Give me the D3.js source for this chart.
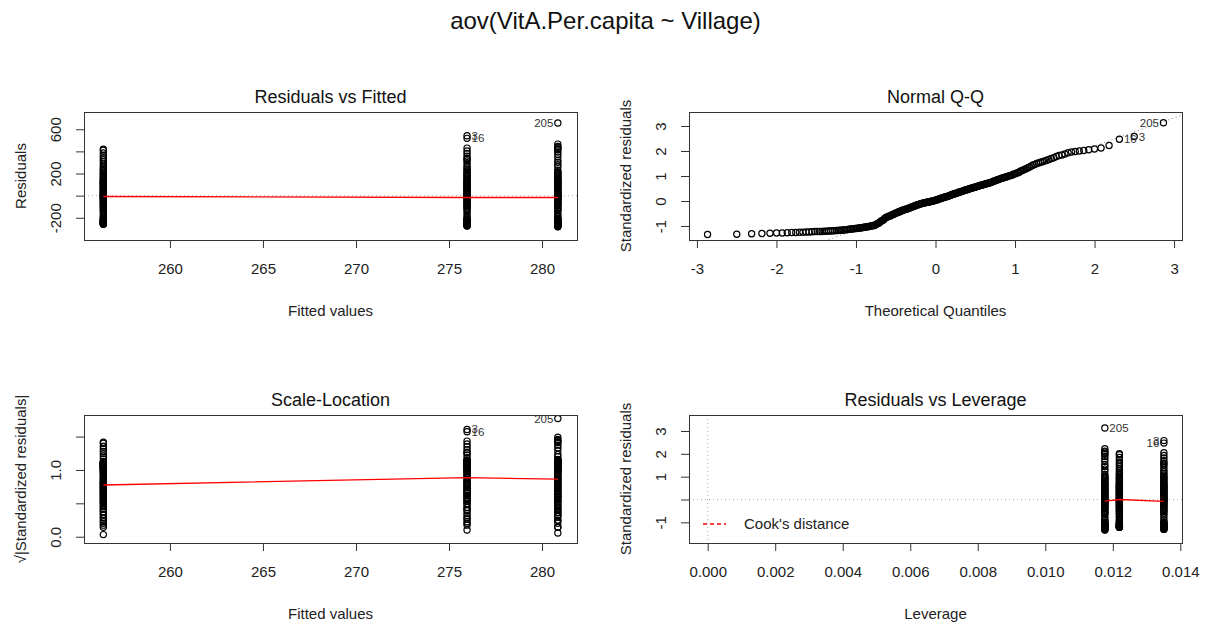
<!DOCTYPE html>
<html>
<head>
<meta charset="utf-8">
<script src="https://cdn.jsdelivr.net/npm/d3@7"></script>
<style>
  body { margin: 0; background: #fff; }
  svg { display: block; font-family: "Liberation Sans", Arial, sans-serif; }
</style>
</head>
<body>
<svg id="chart" width="1211" height="624"></svg>
<script>
// one-way aov: three villages, fitted value = group mean, leverage = 1/n
const groupFitted = [256.42, 275.97, 280.85];
const groupLeverage = [1 / 82, 1 / 74, 1 / 85];
const sigma = 211; // residual standard error

// standardized residuals per village
const stdResidG1 = [
  -1.22, -1.22, -1.22, -1.22, -1.20, -1.19, -1.17, -1.15, -1.13, -1.11,
  -1.10, -1.08, -1.06, -1.04, -1.01, -0.99,
  -0.94, -0.88, -0.80, -0.73, -0.66,
  -0.61, -0.56, -0.51, -0.47, -0.43, -0.38,
  -0.34, -0.31, -0.28, -0.25, -0.21, -0.17, -0.14, -0.11,
  -0.08, -0.06, -0.04, -0.02, 0.001,
  0.03, 0.05, 0.08, 0.11, 0.14, 0.17, 0.20,
  0.23, 0.26, 0.29, 0.32, 0.36, 0.39, 0.42,
  0.45, 0.48, 0.51, 0.54, 0.57, 0.60, 0.63, 0.66, 0.69,
  0.73, 0.78, 0.83, 0.88, 0.93, 0.97, 1.02,
  1.07, 1.13, 1.19, 1.27,
  1.36, 1.46, 1.55, 1.63, 1.73, 1.84, 1.96, 2.00
];
const stdResidG2 = [
  -1.31, -1.30, -1.28, -1.27, -1.26, -1.25, -1.24, -1.21, -1.20, -1.18, -1.17, -1.15, -1.12,
  -1.09, -1.07, -1.04, -1.02, -0.98,
  -0.90, -0.79, -0.68,
  -0.60, -0.54, -0.48, -0.43, -0.38,
  -0.33, -0.29, -0.24, -0.19, -0.15, -0.10,
  -0.07, -0.05, -0.03, 0.01,
  0.04, 0.08, 0.12, 0.16, 0.19,
  0.24, 0.28, 0.31, 0.35, 0.38, 0.43,
  0.46, 0.50, 0.54, 0.58, 0.62, 0.65, 0.70,
  0.74, 0.80, 0.85, 0.91, 0.96, 1.01,
  1.08, 1.14, 1.21, 1.29,
  1.40, 1.50, 1.57, 1.60, 1.70, 1.82, 1.93, 2.05, 2.47, 2.58
];
const stdResidG3 = [
  -1.34, -1.33, -1.29, -1.28, -1.26, -1.25, -1.24, -1.23, -1.21, -1.19, -1.18, -1.16, -1.14, -1.12,
  -1.10, -1.08, -1.05, -1.03, -1.00, -0.98,
  -0.92, -0.84, -0.76, -0.64,
  -0.62, -0.57, -0.52, -0.46, -0.42, -0.37,
  -0.35, -0.32, -0.27, -0.23, -0.20, -0.16, -0.13, -0.10,
  -0.09, -0.06, -0.04, -0.02, 0.003,
  0.02, 0.06, 0.10, 0.13, 0.16, 0.18,
  0.22, 0.27, 0.30, 0.34, 0.37, 0.41,
  0.45, 0.49, 0.52, 0.55, 0.59, 0.63, 0.67, 0.70,
  0.72, 0.76, 0.81, 0.86, 0.90, 0.94, 0.99, 1.03,
  1.10, 1.24,
  1.33, 1.44, 1.52, 1.66, 1.78, 1.88, 1.98, 2.02, 2.08, 2.12, 2.22, 3.13
];
const stdResid = [stdResidG1, stdResidG2, stdResidG3];
const extremeIds = ["205", "3", "16"]; // largest |residual| first

// red smoother values at each group
const smoothResid = [-8, -17, -17];
const smoothScale = [0.775, 0.885, 0.862];
const smoothLev = [0.0, -0.08, -0.07];

const fittedTicks = [260, 265, 270, 275, 280];
const residTicks = [-200, 0, 200, 400, 600];
const residTickLabels = [-200, 200, 600];
const qqXTicks = [-3, -2, -1, 0, 1, 2, 3];
const qqYTicks = [-1, 0, 1, 2, 3];
const scaleTicks = [0, 0.5, 1, 1.5];
const scaleTickLabels = [0, 1];
const levTicks = [0, 0.002, 0.004, 0.006, 0.008, 0.010, 0.012, 0.014];
const levYTicks = [-1, 0, 1, 2, 3];
const levYTickLabels = [-1, 1, 2, 3];

// ---- derived
const pts = [];
stdResid.forEach((arr, g) => arr.forEach(s => pts.push({
  g, fitted: groupFitted[g], lev: groupLeverage[g], std: s,
  resid: s * sigma * Math.sqrt(1 - groupLeverage[g])
})));
const byAbs = pts.slice().sort((a, b) => Math.abs(b.std) - Math.abs(a.std));
byAbs.slice(0, extremeIds.length).forEach((p, i) => p.id = extremeIds[i]);

function qnorm(p) {
  const a = [-3.969683028665376e+01, 2.209460984245205e+02, -2.759285104469687e+02, 1.383577518672690e+02, -3.066479806614716e+01, 2.506628277459239e+00];
  const b = [-5.447609879822406e+01, 1.615858368580409e+02, -1.556989798598866e+02, 6.680131188771972e+01, -1.328068155288572e+01];
  const c = [-7.784894002430293e-03, -3.223964580411365e-01, -2.400758277161838e+00, -2.549732539343734e+00, 4.374664141464968e+00, 2.938163982698783e+00];
  const d = [7.784695709041462e-03, 3.224671290700398e-01, 2.445134137142996e+00, 3.754408661907416e+00];
  const pl = 0.02425;
  let q, r;
  if (p < pl) {
    q = Math.sqrt(-2 * Math.log(p));
    return (((((c[0]*q+c[1])*q+c[2])*q+c[3])*q+c[4])*q+c[5]) / ((((d[0]*q+d[1])*q+d[2])*q+d[3])*q+1);
  }
  if (p > 1 - pl) {
    q = Math.sqrt(-2 * Math.log(1 - p));
    return -(((((c[0]*q+c[1])*q+c[2])*q+c[3])*q+c[4])*q+c[5]) / ((((d[0]*q+d[1])*q+d[2])*q+d[3])*q+1);
  }
  q = p - 0.5; r = q * q;
  return (((((a[0]*r+a[1])*r+a[2])*r+a[3])*r+a[4])*r+a[5])*q / (((((b[0]*r+b[1])*r+b[2])*r+b[3])*r+b[4])*r+1);
}
const sorted = pts.slice().sort((a, b) => a.std - b.std);
const n = sorted.length;
sorted.forEach((p, i) => p.theo = qnorm((i + 1 - 0.5) / n));
const sv = sorted.map(p => p.std);
const q1 = d3.quantile(sv, 0.25), q3 = d3.quantile(sv, 0.75);
const qqSlope = (q3 - q1) / (qnorm(0.75) - qnorm(0.25));
const qqInt = q1 - qqSlope * qnorm(0.25);

// ---- drawing
const svg = d3.select("#chart");
const ink = "#333";
const fmt = d => String(d);

svg.append("text").attr("x", 605.5).attr("y", 29).attr("text-anchor", "middle")
  .attr("font-size", 24).attr("fill", "#111").text("aov(VitA.Per.capita ~ Village)");

let clipN = 0;
function panel(o) {
  const box = o.box;
  const x = d3.scaleLinear().domain(o.xDomain).range([box.left, box.right]);
  const y = d3.scaleLinear().domain(o.yDomain).range([box.bottom, box.top]);
  const g = svg.append("g");
  const id = "clip" + (clipN++);
  svg.append("clipPath").attr("id", id).append("rect")
    .attr("x", box.left).attr("y", box.top)
    .attr("width", box.right - box.left).attr("height", box.bottom - box.top);
  const inner = g.append("g").attr("clip-path", `url(#${id})`);

  g.append("g").attr("transform", `translate(0,${box.bottom})`)
    .call(d3.axisBottom(x).tickValues(o.xTicks).tickSize(8).tickPadding(15).tickFormat(o.xFormat || fmt))
    .call(a => a.select(".domain").remove())
    .attr("font-size", 15).attr("font-family", null).attr("color", ink)
    .call(a => a.selectAll("text").attr("fill", "#222"));

  g.append("g").attr("transform", `translate(${box.left},0)`)
    .call(d3.axisLeft(y).tickValues(o.yTicks).tickSize(8)
      .tickFormat(d => o.yLabels.includes(d) ? (o.yFormat || fmt)(d) : ""))
    .call(a => a.select(".domain").remove())
    .attr("font-size", 15).attr("font-family", null).attr("color", ink)
    .call(a => a.selectAll("text").attr("fill", "#222")
      .attr("transform", "rotate(-90)").attr("x", 0).attr("y", -28)
      .attr("dy", "0.35em").attr("text-anchor", "middle"));

  g.append("rect").attr("x", box.left + 0.5).attr("y", box.top + 0.5)
    .attr("width", box.right - box.left).attr("height", box.bottom - box.top)
    .attr("fill", "none").attr("stroke", ink);

  const cx = (box.left + box.right) / 2;
  g.append("text").attr("x", cx).attr("y", box.top - 9.5).attr("text-anchor", "middle")
    .attr("font-size", 18).attr("fill", "#111").text(o.title);
  g.append("text").attr("x", cx).attr("y", box.bottom + 76).attr("text-anchor", "middle")
    .attr("font-size", 15).attr("fill", "#222").text(o.xTitle);
  g.append("text").attr("transform", `translate(${box.left - 63},${(box.top + box.bottom) / 2}) rotate(-90)`)
    .attr("dy", "0.35em").attr("text-anchor", "middle")
    .attr("font-size", 15).attr("fill", "#222").text(o.yTitle);

  return {x, y, g, inner};
}

function dotted(sel, x1, y1, x2, y2, col) {
  sel.append("line").attr("x1", x1).attr("y1", y1).attr("x2", x2).attr("y2", y2)
    .attr("stroke", col).attr("stroke-dasharray", "1,3");
}
function circles(sel, data, fx, fy) {
  sel.selectAll(null).data(data).join("circle")
    .attr("cx", fx).attr("cy", fy).attr("r", 3.1)
    .attr("fill", "none").attr("stroke", "#000").attr("stroke-width", 1.2);
}
function smooth(sel, xs, ys, x, y) {
  const d = xs.map((v, i) => [v, ys[i]]).sort((a, b) => a[0] - b[0]);
  sel.append("path").datum(d)
    .attr("d", d3.line().x(p => x(p[0])).y(p => y(p[1])))
    .attr("fill", "none").attr("stroke", "#f00").attr("stroke-width", 1.3);
}
// R text.id: label left of point if its x is above the mid-range of labelled x's
function labels(sel, data, fx, fy, xv) {
  const mid = d3.mean(d3.extent(data, xv));
  data.forEach(p => {
    const left = xv(p) > mid;
    sel.append("text").attr("x", fx(p) + (left ? -4.5 : 4.5)).attr("y", fy(p))
      .attr("dy", "0.35em").attr("text-anchor", left ? "end" : "start")
      .attr("font-size", 11.5).attr("fill", "#333").text(p.id);
  });
}
const labelled = pts.filter(p => p.id);

// Residuals vs Fitted
{
  const P = panel({
    box: {left: 84, right: 577, top: 112, bottom: 240},
    xDomain: [255.38, 281.88], yDomain: [-401, 756],
    xTicks: fittedTicks, yTicks: residTicks, yLabels: residTickLabels,
    title: "Residuals vs Fitted", xTitle: "Fitted values", yTitle: "Residuals"
  });
  dotted(P.inner, 84, P.y(0), 577, P.y(0), "#aaa");
  circles(P.inner, pts, p => P.x(p.fitted), p => P.y(p.resid));
  smooth(P.inner, groupFitted, smoothResid, P.x, P.y);
  labels(P.g, labelled, p => P.x(p.fitted), p => P.y(p.resid), p => p.fitted);
}

// Normal Q-Q
{
  const P = panel({
    box: {left: 689, right: 1182, top: 112, bottom: 240},
    xDomain: [-3.1, 3.1], yDomain: [-1.56, 3.56],
    xTicks: qqXTicks, yTicks: qqYTicks, yLabels: qqYTicks,
    title: "Normal Q-Q", xTitle: "Theoretical Quantiles", yTitle: "Standardized residuals"
  });
  dotted(P.inner, P.x(-3.1), P.y(qqInt - 3.1 * qqSlope), P.x(3.1), P.y(qqInt + 3.1 * qqSlope), "#7f7f7f");
  circles(P.inner, sorted, p => P.x(p.theo), p => P.y(p.std));
  labels(P.g, sorted.filter(p => p.id), p => P.x(p.theo), p => P.y(p.std), p => p.theo);
}

// Scale-Location
{
  const P = panel({
    box: {left: 84, right: 577, top: 415, bottom: 543},
    xDomain: [255.38, 281.88], yDomain: [-0.094, 1.823],
    xTicks: fittedTicks, yTicks: scaleTicks, yLabels: scaleTickLabels, yFormat: d => d.toFixed(1),
    title: "Scale-Location", xTitle: "Fitted values", yTitle: "\u221A|Standardized residuals|"
  });
  const sq = p => Math.sqrt(Math.abs(p.std));
  circles(P.inner, pts, p => P.x(p.fitted), p => P.y(sq(p)));
  smooth(P.inner, groupFitted, smoothScale, P.x, P.y);
  labels(P.g, labelled, p => P.x(p.fitted), p => P.y(sq(p)), p => p.fitted);
}

// Residuals vs Leverage
{
  const P = panel({
    box: {left: 689, right: 1182, top: 415, bottom: 543},
    xDomain: [-0.000554, 0.01405], yDomain: [-1.905, 3.70],
    xTicks: levTicks, xFormat: d => d.toFixed(3), yTicks: levYTicks, yLabels: levYTickLabels,
    title: "Residuals vs Leverage", xTitle: "Leverage", yTitle: "Standardized residuals"
  });
  dotted(P.inner, 689, P.y(0), 1182, P.y(0), "#aaa");
  dotted(P.inner, P.x(0), 415, P.x(0), 543, "#aaa");
  circles(P.inner, pts, p => P.x(p.lev), p => P.y(p.std));
  smooth(P.inner, groupLeverage, smoothLev, P.x, P.y);
  labels(P.g, labelled, p => P.x(p.lev), p => P.y(p.std), p => p.lev);
  // legend
  P.g.append("line").attr("x1", 703).attr("x2", 726).attr("y1", 524).attr("y2", 524)
    .attr("stroke", "#f00").attr("stroke-width", 1.3).attr("stroke-dasharray", "4,3");
  P.g.append("text").attr("x", 744).attr("y", 524).attr("dy", "0.35em")
    .attr("font-size", 15).attr("fill", "#222").text("Cook's distance");
}
</script>
</body>
</html>
